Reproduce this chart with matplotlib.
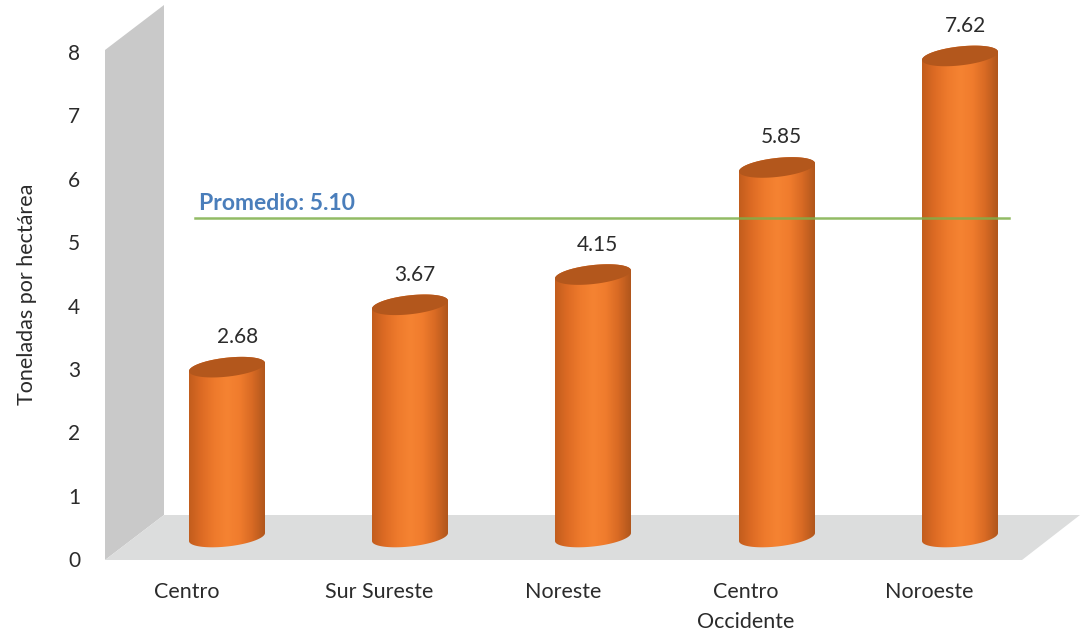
import numpy as np
import matplotlib
matplotlib.use("Agg")
import matplotlib.pyplot as plt
from matplotlib.patches import Polygon
from matplotlib.colors import LinearSegmentedColormap

plt.rcParams['font.family'] = ['Lato', 'DejaVu Sans']

# Data
regiones = ['Centro', 'Sur Sureste', 'Noreste', 'Centro\nOccidente', 'Noroeste']
valores = [2.68, 3.67, 4.15, 5.85, 7.62]
promedio = 5.10
y_ticks = [0, 1, 2, 3, 4, 5, 6, 7, 8]

fig = plt.figure(figsize=(10.8, 6.34), dpi=100)
ax = fig.add_axes([0, 0, 1, 1])
ax.set_xlim(0, 1080)
ax.set_ylim(634, 0)
ax.axis('off')


# pixel helper for the value scale, read from the cylinder tops
def val_y(v):
    return 536 - v * 63


# tilted ellipse outline, left side lower than the right side
def elipse(cx, cy, w, t):
    x = cx + w / 2 * np.cos(t)
    y = cy - 9.5 * np.sin(t) - 4 * np.cos(t)
    return x, y


# grey walls
ax.add_patch(Polygon([[105, 50], [164, 5], [164, 515], [105, 560]], color='#c9c9c9', lw=0, zorder=1))
ax.add_patch(Polygon([[105, 560], [164, 515], [1080, 515], [1022, 560]], color='#dcdddd', lw=0, zorder=1))

cmap = LinearSegmentedColormap.from_list('cil', ['#c25d1d', '#dd6b24', '#ee7a2c', '#f58332', '#f07c2d', '#d86a24', '#b0561c'])
grad = np.linspace(0, 1, 256).reshape(1, -1)

centros = [227, 410, 593, 777, 960]
offset_texto = [11, 5, 4, 4, 5]
ancho = 76
for cx, v, dx in zip(centros, valores, offset_texto):
    top = val_y(v)
    bottom = 537
    im = ax.imshow(grad, cmap=cmap, extent=[cx - ancho / 2, cx + ancho / 2, bottom + 12, top - 12], aspect='auto', zorder=3)
    # body of the cylinder: lower half of the bottom ellipse plus upper half of the top one
    xb, yb = elipse(cx, bottom, ancho, np.linspace(np.pi, 2 * np.pi, 60))
    xt, yt = elipse(cx, top, ancho, np.linspace(0, np.pi, 60))
    clip = Polygon(np.column_stack([np.r_[xb, xt], np.r_[yb, yt]]), transform=ax.transData, fc='none', lw=0)
    ax.add_patch(clip)
    im.set_clip_path(clip)
    xe, ye = elipse(cx, top, ancho, np.linspace(0, 2 * np.pi, 120))
    ax.add_patch(Polygon(np.column_stack([xe, ye]), color='#b3571c', lw=0, zorder=4))
    ax.text(cx + dx, top - 30, f'{v:.2f}', ha='center', va='center', fontsize=15, color='#2b2b2b', zorder=6)

ax.set_xlim(0, 1080)
ax.set_ylim(634, 0)

# promedio line
ax.plot([195, 1009], [218, 218], color='#7fb04a', lw=1.8, alpha=0.85, zorder=5)
ax.text(199, 203, f'Promedio: {promedio:.2f}', ha='left', va='center', fontsize=16.5, fontweight='bold', color='#4a7ebb', zorder=6)

for t in y_ticks:
    ax.text(74, 561 - t * (561 - 54) / 8, str(t), ha='center', va='center', fontsize=15, color='#2b2b2b')

ax.text(27, 294, 'Toneladas por hectárea', rotation=90, ha='center', va='center', fontsize=15.5, color='#2b2b2b')

etiquetas_x = [187, 379, 563, 746, 929]
for x, r in zip(etiquetas_x, regiones):
    ax.text(x, 592, r.split('\n')[0], ha='center', va='center', fontsize=15.5, color='#2b2b2b')
    if '\n' in r:
        ax.text(x, 622, r.split('\n')[1], ha='center', va='center', fontsize=15.5, color='#2b2b2b')

fig.savefig('out.png', dpi=100)
